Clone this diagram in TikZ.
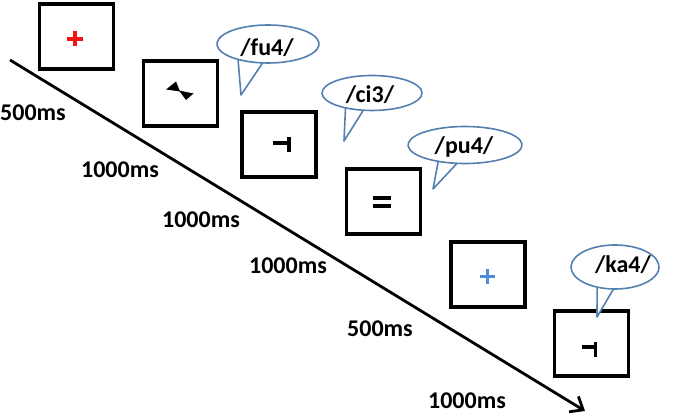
\documentclass[tikz,border=0pt]{standalone}
\usepackage{fontspec}
\setmainfont{Carlito}
\usetikzlibrary{arrows.meta,calc}
\definecolor{bubblecol}{RGB}{84,128,176}
\definecolor{plusred}{RGB}{240,20,20}
\definecolor{plusblue}{RGB}{80,140,215}
\tikzset{
  framebox/.style={draw=black,line width=3.2pt,minimum width=74pt,minimum height=65pt,inner sep=0pt},
  timelabel/.style={font=\fontsize{24}{27}\selectfont\bfseries,inner sep=0pt},
  bubbletext/.style={font=\fontsize{24}{27}\selectfont\bfseries,inner sep=0pt},
  bubble/.style={draw=bubblecol,line width=1.6pt,fill=white,line join=round},
  glyph/.style={line width=3.4pt,line cap=butt}
}
% #1 cx, #2 cy, #3 rx, #4 ry, #5 angle1, #6 angle2, #7 tip coordinate name
\newcommand\mybubble[7]{%
  \draw[bubble] ($(#1,#2)+(#5:#3 and #4)$) -- (#7) -- ($(#1,#2)+(#6:#3 and #4)$)
    arc[start angle=#6,end angle={#5+360},x radius=#3,y radius=#4] -- cycle;}
\begin{document}
\begin{tikzpicture}[x=1pt,y=-1pt]
\useasboundingbox (0,0) rectangle (685,414);
% timeline arrow
\coordinate (tstart) at (10,60);
\coordinate (tend) at (585,411);
\draw[line width=2.8pt,-{Straight Barb[length=11pt,width=18pt,line width=2.8pt]}] (tstart) -- (tend);
% boxes
\node[framebox] (b1) at (76.5,36.5) {};
\node[framebox] (b2) at (180.5,93.5) {};
\node[framebox] (b3) at (279,144.5) {};
\node[framebox] (b4) at (383.5,201.5) {};
\node[framebox] (b5) at (488,274.5) {};
\node[framebox] (b6) at (591.5,343.5) {};
% glyphs
\draw[glyph,plusred] (67,39) -- (83,39) (75,31.5) -- (75,46.5);
\fill[black] (166,89.5) -- (176,81.5) -- (180,91.5) -- cycle;
\fill[black] (179,90.5) -- (193.5,93.5) -- (186,100) -- cycle;
\draw[glyph] (273,143) -- (290,143) (289,137.5) -- (289,152);
\draw[glyph] (373,198) -- (391,198) (373,206) -- (391,206);
\draw[glyph,plusblue] (480,276.5) -- (495,276.5) (487.5,269) -- (487.5,284);
\draw[glyph] (582,347) -- (597,347) (595.5,342) -- (595.5,357);
% time labels
\node[timelabel,anchor=west] (t1) at (0,113) {500ms};
\node[timelabel] (t2) at (120,170) {1000ms};
\node[timelabel] (t3) at (201,220) {1000ms};
\node[timelabel] (t4) at (288,266) {1000ms};
\node[timelabel] (t5) at (380,329) {500ms};
\node[timelabel] (t6) at (467,401) {1000ms};
% bubbles
\coordinate (tip1) at (241,95);
\coordinate (tip2) at (344,141);
\coordinate (tip3) at (433,189);
\coordinate (tip4) at (597,317);
\mybubble{268}{44}{51}{19}{126}{96}{tip1}
\mybubble{372}{93}{50}{17.5}{122}{100}{tip2}
\mybubble{465}{145}{57}{18.5}{118}{98}{tip3}
\mybubble{615}{267}{44}{22}{114}{92}{tip4}
\node[bubbletext] (s1) at (267,48) {/fu4/};
\node[bubbletext] (s2) at (370,95) {/ci3/};
\node[bubbletext] (s3) at (464,147) {/pu4/};
\node[bubbletext] (s4) at (623,265) {/ka4/};
\end{tikzpicture}
\end{document}
